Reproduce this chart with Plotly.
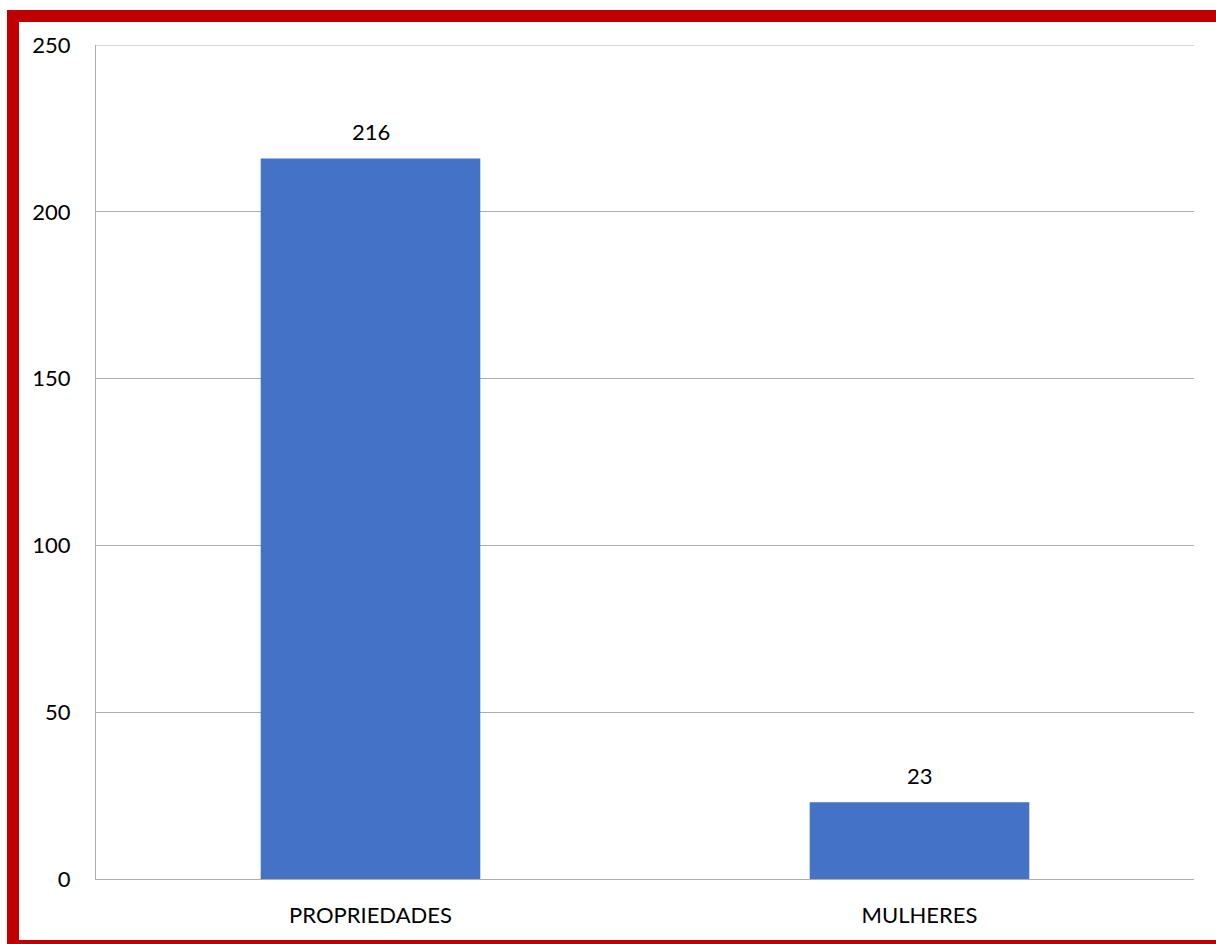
import plotly.graph_objects as go

categories = ["PROPRIEDADES", "MULHERES"]
values = [216, 23]
y_max = 250
y_ticks = [0, 50, 100, 150, 200, 250]

W, H = 1216, 944
ML, MR, MT, MB = 96, 22, 45, 65
pw, ph = W - ML - MR, H - MT - MB

def px_x(p):
    return (p - ML) / pw

def px_y(p):
    return (H - MB - p) / ph

fig = go.Figure()
fig.add_trace(go.Bar(x=categories, y=values, marker=dict(color="#4472C4", line=dict(width=0)),
                     hoverinfo="skip"))

for c, v in zip(categories, values):
    fig.add_annotation(x=c, y=v, text=str(v), showarrow=False, yanchor="bottom",
                       yshift=11, font=dict(size=22, color="#000000", family="Lato"))

# top gridline at the axis maximum
fig.add_shape(type="line", xref="paper", yref="y", x0=0, x1=1, y0=y_max, y1=y_max,
              line=dict(color="#ADADAD", width=1), layer="below")

# red frame
fig.add_shape(type="rect", xref="paper", yref="paper",
              x0=px_x(13), x1=px_x(1240), y0=px_y(16), y1=px_y(946),
              line=dict(color="#C00000", width=12), fillcolor="rgba(0,0,0,0)", layer="above")

fig.update_layout(
    width=W, height=H,
    margin=dict(l=ML, r=MR, t=MT, b=MB),
    paper_bgcolor="white", plot_bgcolor="white",
    bargap=0.6, showlegend=False,
    font=dict(family="Lato", color="#000000"),
    xaxis=dict(showline=True, linecolor="#ADADAD", linewidth=1, showgrid=False,
               tickfont=dict(size=22), ticks="", ticklabelstandoff=17),
    yaxis=dict(range=[0, y_max], tickvals=y_ticks, showgrid=True,
               gridcolor="#ADADAD", gridwidth=1,
               showline=True, linecolor="#ADADAD", linewidth=1, zeroline=False,
               tickfont=dict(size=22), ticks="", ticklabelstandoff=20),
)

fig.write_html("out.html")
